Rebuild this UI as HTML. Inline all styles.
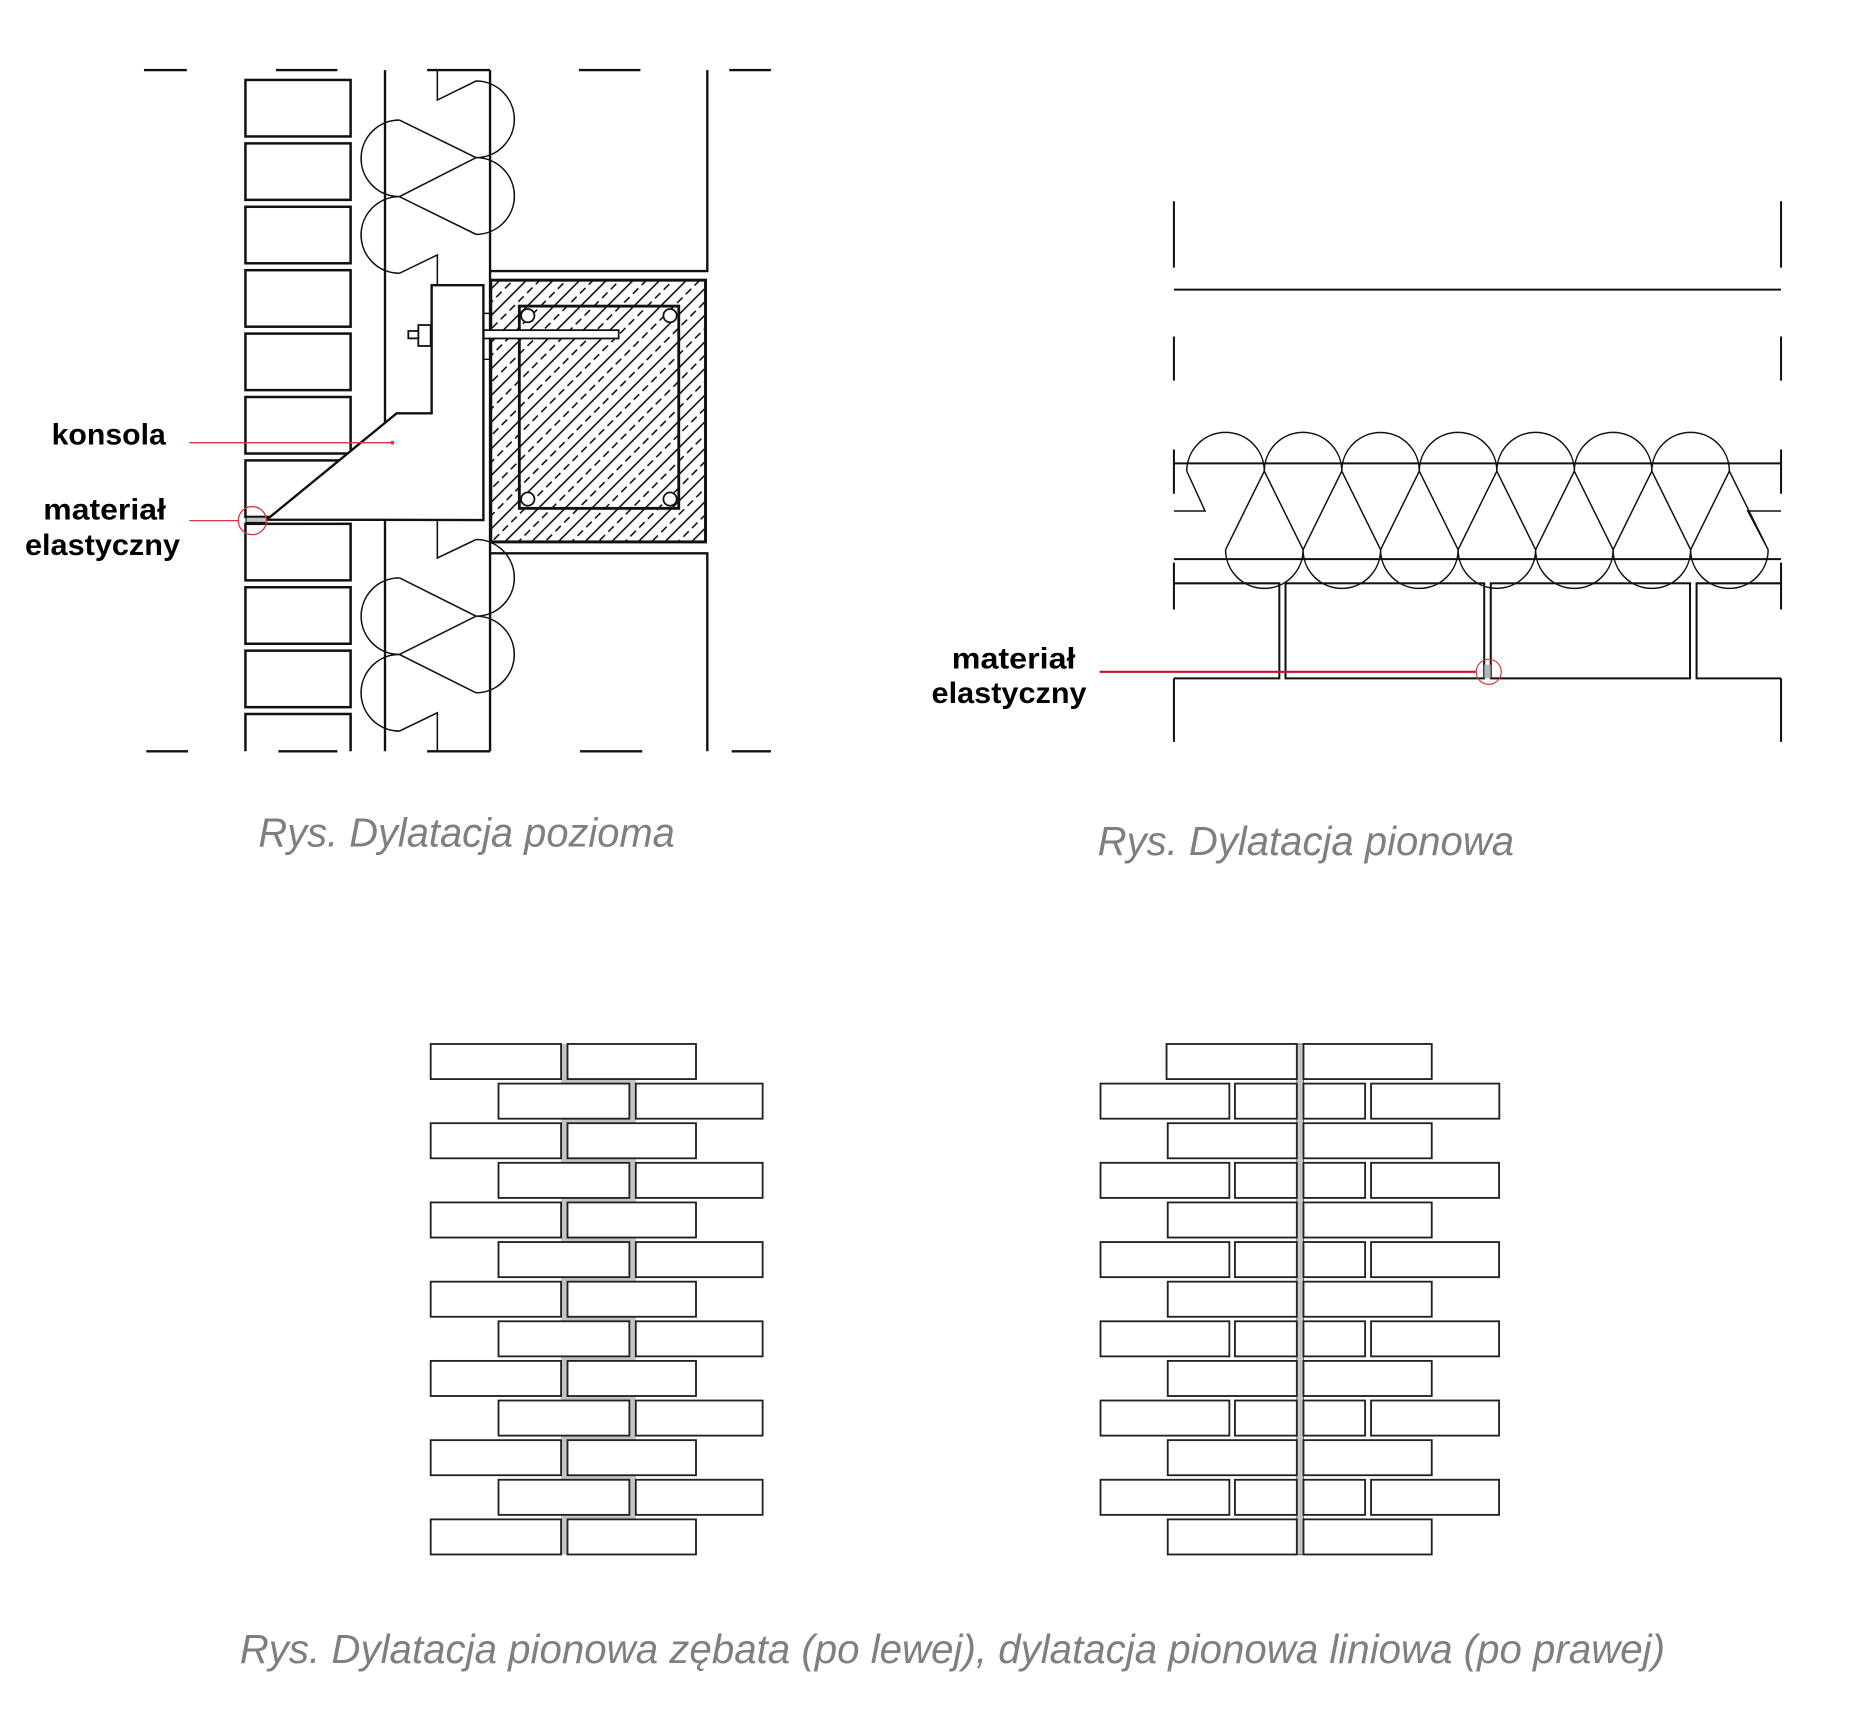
<!DOCTYPE html>
<html>
<head>
<meta charset="utf-8">
<style>
html,body{margin:0;padding:0;background:#fff;}
svg{display:block;}
</style>
</head>
<body>
<svg width="1856" height="1729" viewBox="0 0 1560 1453.3" preserveAspectRatio="none" xmlns="http://www.w3.org/2000/svg">
<defs>
<pattern id="hatch" patternUnits="userSpaceOnUse" width="15.85" height="10.4" patternTransform="rotate(45)">
<line x1="3.96" y1="-1" x2="3.96" y2="12" stroke="#111" stroke-width="1.35"/>
<line x1="11.89" y1="0" x2="11.89" y2="6.5" stroke="#111" stroke-width="1.35"/>
</pattern>
</defs>
<rect x="0" y="0" width="1560" height="1453.3" fill="#fff"/>

<!-- ================= TOP LEFT: Dylatacja pozioma ================= -->
<g fill="none" stroke="#111" stroke-width="2">
<path d="M121 58.9H157 M232 58.9H283.6 M359 58.9H411.9 M486.6 58.9H538.3 M613 58.9H648"/>
<path d="M123 631.5H158 M234 631.5H283.6 M359 631.5H411.9 M487.6 631.5H539.8 M615 631.5H648"/>
<path d="M323.6 58.9V631.5 M411.9 58.9V631.5"/>
<path d="M411.9 227.8H594.5V58.9 M411.9 465.1H594.5V631.5"/>
<g stroke-width="2.1">
<rect x="206.3" y="67.2" width="88.4" height="47.5"/>
<rect x="206.3" y="120.5" width="88.4" height="47.5"/>
<rect x="206.3" y="173.8" width="88.4" height="47.5"/>
<rect x="206.3" y="227.1" width="88.4" height="47.5"/>
<rect x="206.3" y="280.4" width="88.4" height="47.5"/>
<rect x="206.3" y="333.7" width="88.4" height="47.5"/>
<rect x="206.3" y="387.0" width="88.4" height="47.5"/>
<rect x="206.3" y="440.3" width="88.4" height="47.5"/>
<rect x="206.3" y="493.6" width="88.4" height="47.5"/>
<rect x="206.3" y="546.9" width="88.4" height="47.5"/>
<path d="M206.3 631.5V600.2H294.7V631.5"/>
</g>
</g>

<g fill="none" stroke="#111" stroke-width="1.3">
<path d="M367.6 58.9V84.1L400.1 68.1A32.2 32.2 0 0 1 400.1 132.5A32.25 32.25 0 0 1 400.1 197"/>
<path d="M335.7 100.9L400.1 132.5L335.7 165.3L400.1 197"/>
<path d="M335.7 100.9A32.2 32.2 0 0 0 335.7 165.3A32.2 32.2 0 0 0 335.7 229.7L367.6 214.3V239.7"/>
<path d="M367.6 437.1V469L400.1 453.5A32.2 32.2 0 0 1 400.1 517.9A32.2 32.2 0 0 1 400.1 582.3"/>
<path d="M335.7 485.7L400.1 517.9L335.7 550.1L400.1 582.3"/>
<path d="M335.7 485.7A32.2 32.2 0 0 0 335.7 550.1A32.2 32.2 0 0 0 335.7 614.5L367.6 599.1V631.5"/>
</g>

<rect x="412.5" y="235.5" width="180.5" height="220" fill="url(#hatch)" stroke="#111" stroke-width="2.5"/>
<rect x="436.5" y="257.3" width="134" height="170" fill="none" stroke="#111" stroke-width="2.4"/>
<g fill="#fff" stroke="#111" stroke-width="1.5">
<circle cx="443.6" cy="265.3" r="5.6"/>
<circle cx="563.2" cy="265.3" r="5.6"/>
<circle cx="443.6" cy="419.5" r="5.6"/>
<circle cx="563.2" cy="419.5" r="5.6"/>
<rect x="405" y="277.5" width="115" height="7"/>
</g>
<path d="M405 263.4H411.9 M405 302H411.9" stroke="#111" stroke-width="1.2" fill="none"/>

<path d="M224.2 436.8L333.4 347.4H362.8V239.7H406.3V437.1Z" fill="#fff" stroke="#111" stroke-width="2"/>
<rect x="351.6" y="273.2" width="10.4" height="17.6" fill="#fff" stroke="#111" stroke-width="1.5"/>
<rect x="343.2" y="278.2" width="8.4" height="6.2" fill="#fff" stroke="#111" stroke-width="1.5"/>
<rect x="206.8" y="434.7" width="17.2" height="4.4" fill="#c4c4c4" stroke="#111" stroke-width="0.9"/>

<g stroke="#d9363e" fill="none" stroke-width="1.1">
<path d="M159.1 372.1H329.8"/>
<path d="M159.1 437.6H200.3"/>
<circle cx="212.1" cy="437.6" r="11.8"/>
</g>
<circle cx="329.8" cy="372.1" r="1.6" fill="#d9363e"/>

<g font-family="'Liberation Sans', Arial, sans-serif" font-weight="bold" font-size="25" fill="#000">
<text x="43.4" y="373.5" textLength="96" lengthAdjust="spacingAndGlyphs">konsola</text>
<text x="36.4" y="436.5" textLength="103" lengthAdjust="spacingAndGlyphs">materiał</text>
<text x="21" y="466.5" textLength="130.3" lengthAdjust="spacingAndGlyphs">elastyczny</text>
<text x="800" y="562" textLength="104" lengthAdjust="spacingAndGlyphs">materiał</text>
<text x="783" y="591" textLength="130.3" lengthAdjust="spacingAndGlyphs">elastyczny</text>
</g>

<!-- ================= TOP RIGHT: Dylatacja pionowa ================= -->
<g fill="none" stroke="#111" stroke-width="1.7">
<path d="M986.7 169.2V224.9 M986.7 282.8V319.9 M986.7 377.8V415 M986.7 472.9V512.3 M986.7 570.2V623.6"/>
<path d="M1497 169.2V224.9 M1497 282.8V319.9 M1497 377.8V415 M1497 472.9V512.3 M1497 570.2V623.6"/>
<path d="M986.7 243.4H1497"/>
<path d="M986.7 389.5H1497 M986.7 470H1497"/>
<path d="M986.7 490.3H1075.3V570.2H986.7"/>
<rect x="1080.5" y="490.3" width="167" height="79.9"/>
<rect x="1253" y="490.3" width="167.5" height="79.9"/>
<path d="M1497 490.3H1426V570.2H1497"/>
</g>
<rect x="1247.6" y="558.6" width="5.3" height="11.6" fill="#b5b5b5"/>
<g fill="none" stroke="#111" stroke-width="1.25">
<path d="M986.7 429.5H1012.9L997.5 396"/>
<path d="M997.5 396A32.575 32.575 0 0 1 1062.65 396A32.575 32.575 0 0 1 1127.8 396A32.575 32.575 0 0 1 1192.95 396A32.575 32.575 0 0 1 1258.1 396A32.575 32.575 0 0 1 1323.25 396A32.575 32.575 0 0 1 1388.4 396A32.575 32.575 0 0 1 1453.55 396"/>
<path d="M1030.1 462A32.575 32.575 0 0 0 1095.25 462A32.575 32.575 0 0 0 1160.4 462A32.575 32.575 0 0 0 1225.55 462A32.575 32.575 0 0 0 1290.7 462A32.575 32.575 0 0 0 1355.85 462A32.575 32.575 0 0 0 1421 462A32.575 32.575 0 0 0 1486.15 462"/>
<path d="M1030.1 462L1062.65 396L1095.25 462L1127.8 396L1160.4 462L1192.95 396L1225.55 462L1258.1 396L1290.7 462L1323.25 396L1355.85 462L1388.4 396L1421 462L1453.55 396L1486.15 462L1469 429.5H1497"/>
</g>
<path d="M924.3 564.7H1241" stroke="#c8102e" stroke-width="1.8" fill="none"/>
<circle cx="1251.3" cy="564.7" r="10.5" stroke="#d9363e" stroke-width="1" fill="none"/>

<g font-family="'Liberation Sans', Arial, sans-serif" font-style="italic" font-size="34" fill="#7f7f7f">
<text x="217.2" y="711.7" textLength="350" lengthAdjust="spacingAndGlyphs">Rys. Dylatacja pozioma</text>
<text x="922.6" y="718.5" textLength="350" lengthAdjust="spacingAndGlyphs">Rys. Dylatacja pionowa</text>
<text x="201.5" y="1398" textLength="1198" lengthAdjust="spacingAndGlyphs">Rys. Dylatacja pionowa zębata (po lewej), dylatacja pionowa liniowa (po prawej)</text>
</g>

<!-- ================= BOTTOM LEFT: zigzag joint ================= -->
<path d="M474.3 877.5V908.9H531.7V942.2H474.3V975.5H531.7V1008.8H474.3V1042.1H531.7V1075.4H474.3V1108.7H531.7V1142H474.3V1175.3H531.7V1208.6H474.3V1241.9H531.7V1275.2H474.3V1306.6" fill="none" stroke="#c4c4c4" stroke-width="5.4"/>
<g fill="#fff" stroke="#222" stroke-width="1.55">
<rect x="362" y="877.5" width="109.6" height="29.5"/><rect x="477" y="877.5" width="108" height="29.5"/>
<rect x="362" y="944.1" width="109.6" height="29.5"/><rect x="477" y="944.1" width="108" height="29.5"/>
<rect x="362" y="1010.7" width="109.6" height="29.5"/><rect x="477" y="1010.7" width="108" height="29.5"/>
<rect x="362" y="1077.3" width="109.6" height="29.5"/><rect x="477" y="1077.3" width="108" height="29.5"/>
<rect x="362" y="1143.9" width="109.6" height="29.5"/><rect x="477" y="1143.9" width="108" height="29.5"/>
<rect x="362" y="1210.5" width="109.6" height="29.5"/><rect x="477" y="1210.5" width="108" height="29.5"/>
<rect x="362" y="1277.1" width="109.6" height="29.5"/><rect x="477" y="1277.1" width="108" height="29.5"/>
<rect x="419" y="910.8" width="110" height="29.5"/><rect x="534.4" y="910.8" width="106.6" height="29.5"/>
<rect x="419" y="977.4" width="110" height="29.5"/><rect x="534.4" y="977.4" width="106.6" height="29.5"/>
<rect x="419" y="1044" width="110" height="29.5"/><rect x="534.4" y="1044" width="106.6" height="29.5"/>
<rect x="419" y="1110.6" width="110" height="29.5"/><rect x="534.4" y="1110.6" width="106.6" height="29.5"/>
<rect x="419" y="1177.2" width="110" height="29.5"/><rect x="534.4" y="1177.2" width="106.6" height="29.5"/>
<rect x="419" y="1243.8" width="110" height="29.5"/><rect x="534.4" y="1243.8" width="106.6" height="29.5"/>
</g>

<!-- ================= BOTTOM RIGHT: straight joint ================= -->
<rect x="1090" y="877.5" width="5.6" height="429.1" fill="#c4c4c4" stroke="#333" stroke-width="0.6"/>
<g fill="#fff" stroke="#222" stroke-width="1.55">
<rect x="980.5" y="877.5" width="109.5" height="29.5"/><rect x="1095.6" y="877.5" width="107.8" height="29.5"/>
<rect x="981.5" y="944.1" width="108.5" height="29.5"/><rect x="1095.6" y="944.1" width="107.8" height="29.5"/>
<rect x="981.5" y="1010.7" width="108.5" height="29.5"/><rect x="1095.6" y="1010.7" width="107.8" height="29.5"/>
<rect x="981.5" y="1077.3" width="108.5" height="29.5"/><rect x="1095.6" y="1077.3" width="107.8" height="29.5"/>
<rect x="981.5" y="1143.9" width="108.5" height="29.5"/><rect x="1095.6" y="1143.9" width="107.8" height="29.5"/>
<rect x="981.5" y="1210.5" width="108.5" height="29.5"/><rect x="1095.6" y="1210.5" width="107.8" height="29.5"/>
<rect x="981.5" y="1277.1" width="108.5" height="29.5"/><rect x="1095.6" y="1277.1" width="107.8" height="29.5"/>
<rect x="925" y="910.8" width="108.3" height="29.5"/><rect x="1038" y="910.8" width="52" height="29.5"/><rect x="1095.6" y="910.8" width="51.8" height="29.5"/><rect x="1152.4" y="910.8" width="107.8" height="29.5"/>
<rect x="925" y="977.4" width="108.3" height="29.5"/><rect x="1038" y="977.4" width="52" height="29.5"/><rect x="1095.6" y="977.4" width="51.8" height="29.5"/><rect x="1152.4" y="977.4" width="107.6" height="29.5"/>
<rect x="925" y="1044" width="108.3" height="29.5"/><rect x="1038" y="1044" width="52" height="29.5"/><rect x="1095.6" y="1044" width="51.8" height="29.5"/><rect x="1152.4" y="1044" width="107.6" height="29.5"/>
<rect x="925" y="1110.6" width="108.3" height="29.5"/><rect x="1038" y="1110.6" width="52" height="29.5"/><rect x="1095.6" y="1110.6" width="51.8" height="29.5"/><rect x="1152.4" y="1110.6" width="107.6" height="29.5"/>
<rect x="925" y="1177.2" width="108.3" height="29.5"/><rect x="1038" y="1177.2" width="52" height="29.5"/><rect x="1095.6" y="1177.2" width="51.8" height="29.5"/><rect x="1152.4" y="1177.2" width="107.6" height="29.5"/>
<rect x="925" y="1243.8" width="108.3" height="29.5"/><rect x="1038" y="1243.8" width="52" height="29.5"/><rect x="1095.6" y="1243.8" width="51.8" height="29.5"/><rect x="1152.4" y="1243.8" width="107.6" height="29.5"/>
</g>
</svg>
</body>
</html>
